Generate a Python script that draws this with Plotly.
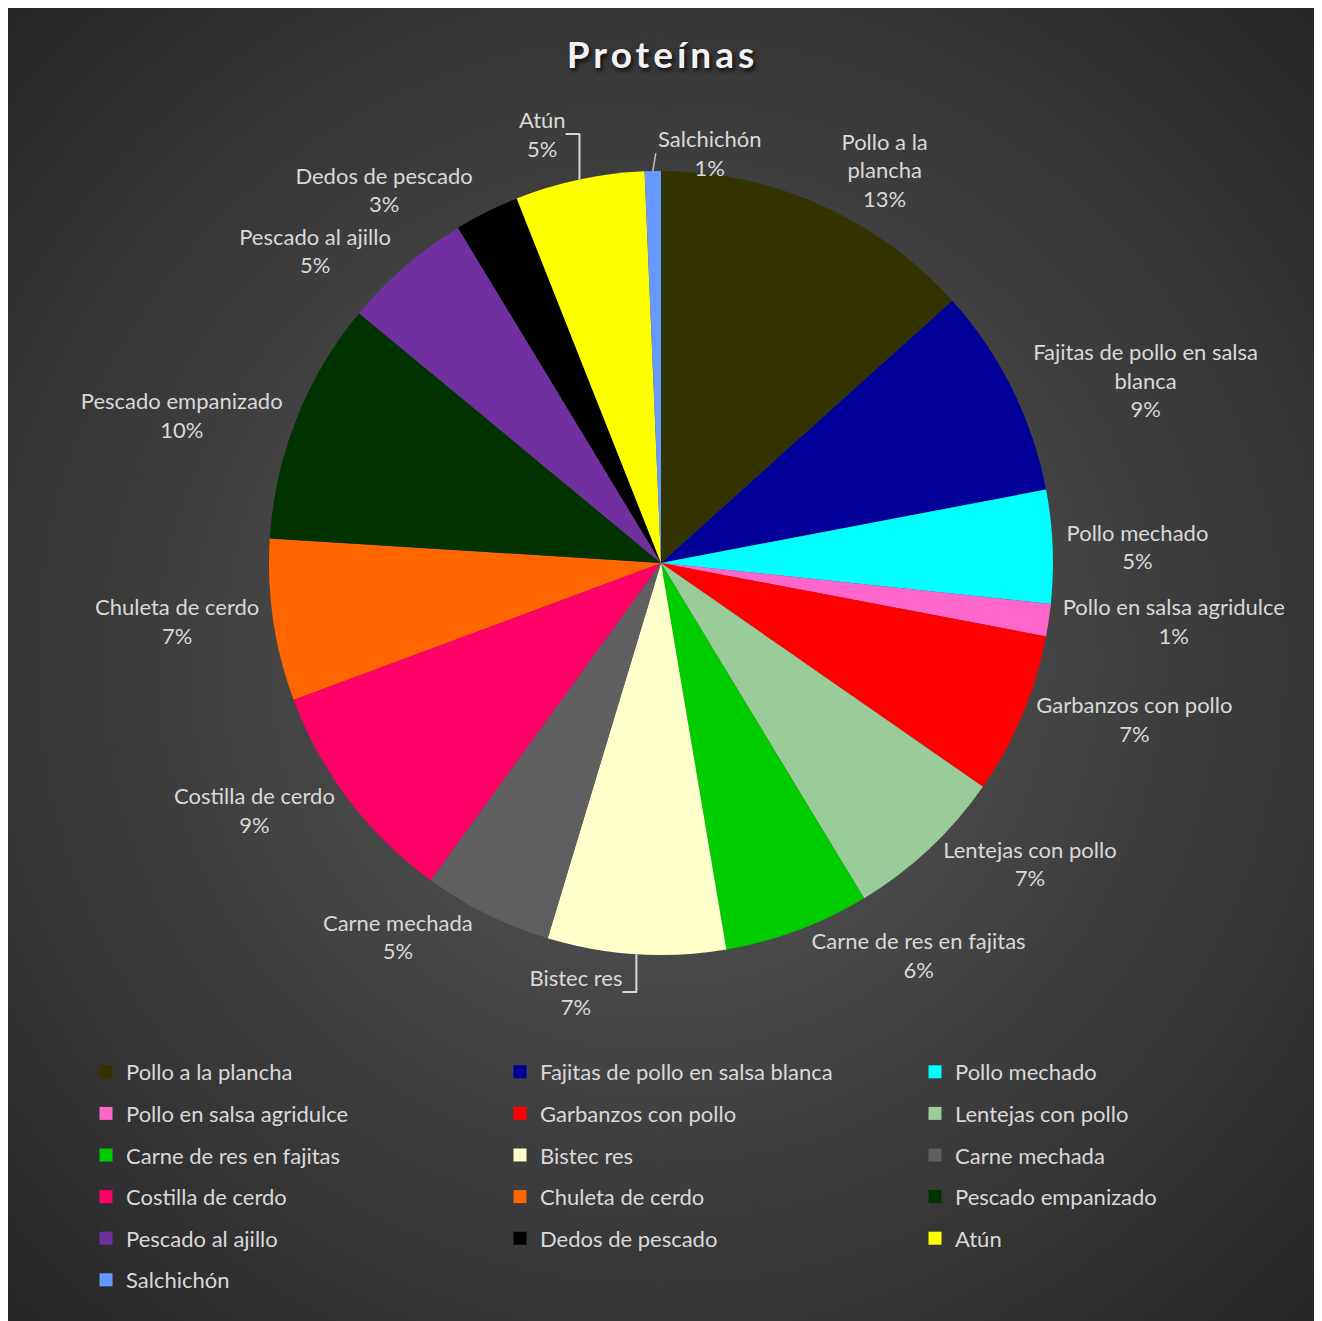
import math
import plotly.graph_objects as go

# ---------------- data ----------------
categories = [
    "Pollo a la plancha", "Fajitas de pollo en salsa blanca", "Pollo mechado",
    "Pollo en salsa agridulce", "Garbanzos con pollo", "Lentejas con pollo",
    "Carne de res en fajitas", "Bistec res", "Carne mechada", "Costilla de cerdo",
    "Chuleta de cerdo", "Pescado empanizado", "Pescado al ajillo",
    "Dedos de pescado", "Atún", "Salchichón",
]
counts = [20, 13, 7, 2, 10, 10, 9, 11, 8, 14, 10, 15, 8, 4, 8, 1]
label_text = [
    "Pollo a la<br>plancha", "Fajitas de pollo en salsa<br>blanca", "Pollo mechado",
    "Pollo en salsa agridulce", "Garbanzos con pollo", "Lentejas con pollo",
    "Carne de res en fajitas", "Bistec res", "Carne mechada", "Costilla de cerdo",
    "Chuleta de cerdo", "Pescado empanizado", "Pescado al ajillo",
    "Dedos de pescado", "Atún", "Salchichón",
]
colors = [
    "#333300", "#000099", "#00FFFF", "#FF66CC", "#FF0000", "#99CC99",
    "#00CC00", "#FFFFCC", "#5F5F5F", "#FF0066", "#FF6600", "#003300",
    "#7030A0", "#000000", "#FFFF00", "#6699FF",
]
title_text = "Proteínas"
# slices whose label is drawn with a leader line (Excel moved it)
moved_labels = ["Salchichón"]

# ---------------- layout constants (figure pixels) ----------------
W, H = 1309, 1313
FONT = "Lato"
TXT = "#D9D9D9"
cx_px, cy_px, r_px = 653, 555, 392

total = sum(counts)
templates = [
    "" if cat in moved_labels else "%{text}<br>%{percent:.0%}"
    for cat in categories
]

fig = go.Figure()

fig.add_trace(go.Pie(
    labels=categories,
    values=counts,
    text=label_text,
    texttemplate=templates,
    textposition="outside",
    textfont=dict(family=FONT, size=22, color=TXT),
    marker=dict(colors=colors, line=dict(width=0)),
    sort=False,
    direction="clockwise",
    rotation=0,
    showlegend=False,
    hoverinfo="label+value+percent",
    domain=dict(
        x=[(cx_px - r_px) / W, (cx_px + r_px) / W],
        y=[1 - (cy_px + r_px) / H, 1 - (cy_px - r_px) / H],
    ),
))

# moved labels: annotation with a leader line from the slice's outer edge
annotations = []
cum = 0
for cat, txt, v in zip(categories, label_text, counts):
    mid = (cum + v / 2) / total * 2 * math.pi
    cum += v
    if cat not in moved_labels:
        continue
    ex = cx_px + r_px * math.sin(mid)
    ey = cy_px - r_px * math.cos(mid)
    annotations.append(dict(
        x=ex / W, y=1 - ey / H, xref="paper", yref="paper",
        text=f"{txt}<br>{100 * v / total:.0f}%",
        showarrow=True, arrowhead=0, arrowwidth=1.5, arrowcolor="#BFBFBF",
        ax=3, ay=-18, xanchor="left", yanchor="middle", align="center",
        font=dict(family=FONT, size=22, color=TXT),
    ))

# legend: three columns, one vertical legend per column
col_x_px = [78, 492, 907]
legend_top_px = 1043
legend_layouts = {}
for i, (cat, col) in enumerate(zip(categories, colors)):
    c = i % 3
    lname = "legend" if c == 0 else f"legend{c + 1}"
    fig.add_trace(go.Scatter(
        x=[None], y=[None], mode="markers",
        marker=dict(symbol="square", size=13, color=col),
        name=cat, legend=lname, legendgroup=f"g{i}", showlegend=True,
        hoverinfo="skip",
    ))
    legend_layouts[lname] = dict(
        orientation="v", x=col_x_px[c] / W, xanchor="left",
        y=1 - legend_top_px / H, yanchor="top",
        tracegroupgap=10,
        font=dict(family=FONT, size=22, color=TXT),
        bgcolor="rgba(0,0,0,0)", borderwidth=0,
        itemclick=False, itemdoubleclick=False,
    )

# background: radial gradient approximated with concentric circles
shapes = []
gcx, gcy = 653, 652
c_in, c_out = 0x5A, 0x26
R_MAX = 940
N = 60
for k in range(N, 0, -1):
    rr = R_MAX * k / N
    v = int(round(c_in + (c_out - c_in) * (k / N)))
    shapes.append(dict(
        type="circle", xref="paper", yref="paper", layer="below",
        x0=(gcx - rr) / W, x1=(gcx + rr) / W,
        y0=1 - (gcy + rr) / H, y1=1 - (gcy - rr) / H,
        fillcolor=f"rgb({v},{v},{v})", line=dict(width=0),
    ))

fig.update_layout(
    width=W, height=H,
    margin=dict(l=0, r=0, t=0, b=0),
    paper_bgcolor="#262626",
    plot_bgcolor="rgba(0,0,0,0)",
    xaxis=dict(visible=False),
    yaxis=dict(visible=False),
    shapes=shapes,
    annotations=annotations,
    title=dict(
        text=f"<span style='letter-spacing:4px'><b>{title_text}</b></span>",
        x=0.5, xanchor="center", y=1 - 47 / H, yanchor="middle",
        font=dict(family=FONT, size=37, color="#F2F2F2",
                  shadow="2px 3px 4px rgba(0,0,0,0.8)"),
    ),
    **legend_layouts,
)

fig.write_html("out.html")
